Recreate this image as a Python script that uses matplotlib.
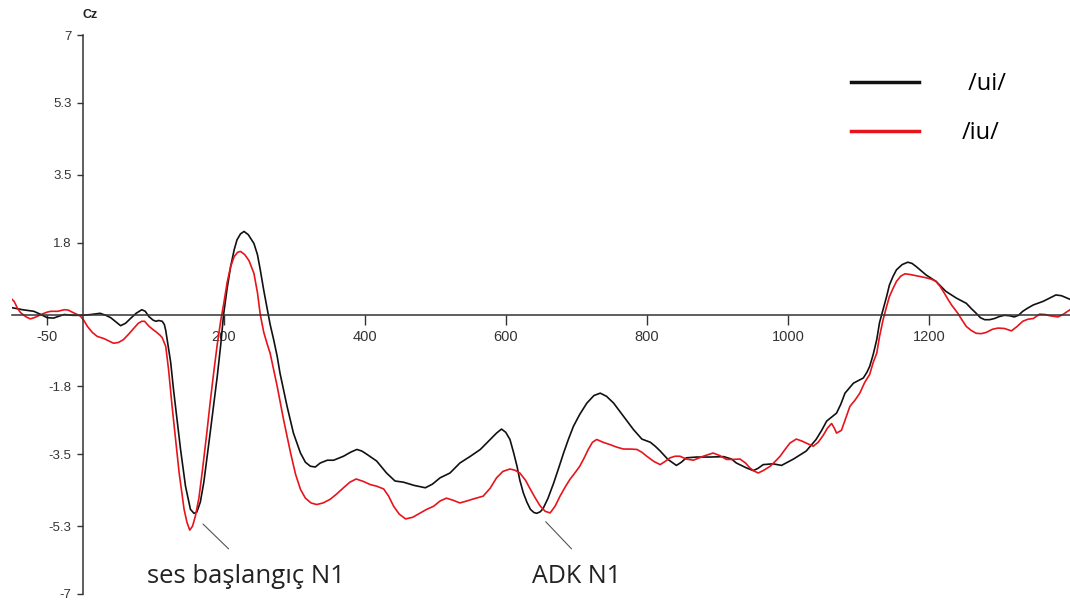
import numpy as np
import matplotlib.pyplot as plt

plt.rcParams['axes.unicode_minus'] = False

# grand-average ERP at Cz, time in ms, amplitude in microvolts
t_ui = [-100, -97, -85, -69, -59, -50, -41, -33, -26, -14, 0, 12, 25, 33, 40, 47, 54, 61, 68, 76,
        84, 89, 94, 100, 104, 108, 113, 116, 118, 120, 125, 129, 134, 139, 146, 153, 158, 162, 167, 172,
        176, 181, 186, 191, 196, 200, 205, 210, 215, 219, 224, 229, 235, 243, 248, 252, 257, 262, 266, 271,
        276, 280, 290, 299, 309, 316, 323, 330, 337, 347, 356, 370, 380, 389, 396, 403, 417, 431, 443, 455,
        470, 486, 496, 507, 521, 535, 550, 564, 578, 587, 594, 600, 606, 611, 616, 620, 625, 630, 635, 640,
        644, 649, 653, 660, 668, 675, 682, 689, 696, 705, 715, 725, 734, 743, 753, 767, 781, 793, 805, 812,
        819, 830, 842, 849, 856, 871, 890, 909, 920, 927, 941, 951, 958, 965, 979, 991, 1008, 1026, 1040, 1048,
        1055, 1062, 1069, 1075, 1081, 1093, 1107, 1112, 1116, 1121, 1126, 1130, 1135, 1140, 1144, 1149, 1154, 1162, 1170, 1176,
        1182, 1196, 1210, 1224, 1239, 1253, 1260, 1267, 1273, 1279, 1286, 1293, 1300, 1307, 1314, 1321, 1327, 1333, 1340, 1348,
        1362, 1372, 1380, 1388, 1400]
v_ui = [0.17, 0.16, 0.12, 0.08, 0.0, -0.08, -0.09, -0.04, 0.0, -0.02, -0.02, 0.0, 0.03, -0.02, -0.08, -0.18, -0.28, -0.22, -0.1, 0.03,
        0.12, 0.08, -0.05, -0.14, -0.17, -0.15, -0.17, -0.25, -0.4, -0.63, -1.2, -1.88, -2.63, -3.38, -4.3, -4.88, -4.98, -4.95, -4.7, -4.2,
        -3.65, -2.96, -2.25, -1.55, -0.75, 0.0, 0.65, 1.2, 1.62, 1.87, 2.02, 2.08, 2.0, 1.78, 1.5, 1.12, 0.6, 0.12, -0.25, -0.63,
        -1.05, -1.47, -2.3, -2.97, -3.47, -3.7, -3.8, -3.82, -3.72, -3.65, -3.65, -3.55, -3.45, -3.38, -3.42, -3.5, -3.67, -3.97, -4.17, -4.2,
        -4.28, -4.34, -4.25, -4.09, -3.97, -3.72, -3.55, -3.38, -3.13, -2.97, -2.87, -2.95, -3.13, -3.45, -3.8, -4.15, -4.47, -4.7, -4.88, -4.96,
        -4.98, -4.94, -4.86, -4.6, -4.22, -3.85, -3.47, -3.12, -2.8, -2.5, -2.22, -2.03, -1.97, -2.05, -2.22, -2.55, -2.88, -3.12, -3.2, -3.3,
        -3.42, -3.63, -3.78, -3.7, -3.59, -3.57, -3.57, -3.56, -3.62, -3.72, -3.84, -3.91, -3.85, -3.76, -3.74, -3.78, -3.62, -3.42, -3.13, -2.9,
        -2.67, -2.57, -2.47, -2.25, -1.97, -1.72, -1.59, -1.45, -1.3, -1.0, -0.63, -0.2, 0.12, 0.45, 0.74, 0.95, 1.12, 1.25, 1.31, 1.28,
        1.2, 0.99, 0.83, 0.58, 0.41, 0.28, 0.15, 0.03, -0.08, -0.13, -0.13, -0.1, -0.05, -0.02, -0.03, -0.06, -0.02, 0.08, 0.16, 0.24,
        0.33, 0.42, 0.49, 0.47, 0.38]

t_iu = [-100, -97, -92, -88, -80, -74, -67, -59, -50, -45, -35, -26, -20, -17, -10, -3, 2, 7, 14, 21,
        30, 37, 44, 51, 58, 65, 73, 79, 84, 88, 94, 100, 104, 110, 113, 118, 122, 127, 132, 137,
        144, 148, 152, 156, 160, 165, 170, 176, 181, 186, 191, 196, 200, 205, 210, 215, 220, 224, 230, 236,
        243, 248, 252, 257, 262, 266, 276, 285, 295, 302, 309, 316, 324, 332, 341, 351, 360, 370, 379, 388,
        398, 408, 417, 427, 434, 441, 449, 458, 468, 479, 488, 498, 507, 516, 525, 535, 545, 554, 568, 578,
        587, 596, 606, 613, 620, 628, 635, 642, 649, 656, 663, 670, 677, 684, 691, 698, 705, 711, 717, 723,
        729, 738, 748, 757, 767, 776, 786, 793, 800, 810, 819, 826, 833, 840, 847, 856, 866, 880, 894, 903,
        913, 922, 932, 940, 946, 952, 958, 966, 975, 982, 989, 996, 1003, 1012, 1020, 1026, 1036, 1043, 1050, 1056,
        1062, 1066, 1069, 1076, 1082, 1088, 1095, 1102, 1109, 1116, 1121, 1126, 1130, 1135, 1140, 1144, 1149, 1154, 1160, 1166,
        1174, 1182, 1196, 1204, 1210, 1216, 1222, 1227, 1232, 1241, 1247, 1253, 1260, 1267, 1274, 1281, 1290, 1298, 1307, 1317,
        1325, 1333, 1340, 1348, 1357, 1365, 1371, 1383, 1390, 1400]
v_iu = [0.38, 0.33, 0.15, 0.05, -0.06, -0.11, -0.07, 0.0, 0.06, 0.08, 0.08, 0.12, 0.11, 0.08, 0.02, -0.04, -0.15, -0.3, -0.45, -0.55,
        -0.6, -0.66, -0.72, -0.7, -0.63, -0.5, -0.34, -0.22, -0.17, -0.17, -0.29, -0.38, -0.43, -0.52, -0.58, -0.8, -1.38, -2.3, -3.13, -3.97,
        -4.88, -5.2, -5.4, -5.3, -5.05, -4.6, -3.9, -3.0, -2.2, -1.45, -0.75, -0.15, 0.25, 0.8, 1.2, 1.45, 1.56, 1.58, 1.5, 1.35,
        1.03, 0.55, 0.0, -0.45, -0.75, -0.97, -1.8, -2.63, -3.47, -4.0, -4.38, -4.6, -4.72, -4.76, -4.72, -4.63, -4.5, -4.34, -4.2, -4.12,
        -4.18, -4.26, -4.3, -4.37, -4.55, -4.8, -5.0, -5.12, -5.08, -4.97, -4.88, -4.8, -4.67, -4.6, -4.65, -4.72, -4.67, -4.62, -4.55, -4.35,
        -4.09, -3.93, -3.87, -3.9, -3.97, -4.15, -4.38, -4.6, -4.8, -4.93, -4.97, -4.8, -4.55, -4.33, -4.13, -3.97, -3.8, -3.6, -3.38, -3.2,
        -3.13, -3.2, -3.26, -3.32, -3.37, -3.37, -3.38, -3.45, -3.55, -3.68, -3.76, -3.68, -3.59, -3.55, -3.55, -3.62, -3.65, -3.55, -3.47, -3.53,
        -3.63, -3.63, -3.62, -3.72, -3.84, -3.92, -3.97, -3.9, -3.8, -3.68, -3.55, -3.38, -3.22, -3.12, -3.17, -3.22, -3.3, -3.2, -3.03, -2.85,
        -2.73, -2.85, -2.97, -2.9, -2.6, -2.3, -2.15, -1.97, -1.7, -1.5, -1.2, -0.97, -0.55, -0.13, 0.2, 0.45, 0.65, 0.83, 0.96, 1.02,
        1.0, 0.97, 0.92, 0.88, 0.83, 0.7, 0.53, 0.38, 0.24, 0.03, -0.14, -0.3, -0.4, -0.47, -0.48, -0.45, -0.37, -0.34, -0.35, -0.41,
        -0.3, -0.17, -0.12, -0.1, 0.01, 0.0, -0.03, -0.06, 0.0, 0.12]

yticks = [7, 5.3, 3.5, 1.8, -1.8, -3.5, -5.3, -7]
xticks = [-50, 200, 400, 600, 800, 1000, 1200]

axis_col = '#333333'

fig = plt.figure(figsize=(10.70, 6.04), dpi=100)
ax = fig.add_axes([0.0112, 0.0166, 0.9888, 0.9254])

ax.plot(t_ui, v_ui, color='#111111', lw=1.2, label=' /ui/')
ax.plot(t_iu, v_iu, color='#e8141c', lw=1.2, label='/iu/')

ax.set_xlim(-100, 1400)
ax.set_ylim(-7, 7)

for s in ['top', 'right']:
    ax.spines[s].set_visible(False)
ax.spines['left'].set_position(('data', 0))
ax.spines['bottom'].set_position(('data', 0))
for s in ['left', 'bottom']:
    ax.spines[s].set_color(axis_col)
    ax.spines[s].set_linewidth(1.1)

ax.set_yticks(yticks)
ax.set_yticklabels([f'{v:g}' for v in yticks])
ax.set_xticks(xticks)
ax.tick_params(axis='y', direction='out', length=4, width=1.0, color=axis_col,
               labelsize=9.5, labelcolor=axis_col, pad=4)
ax.tick_params(axis='x', direction='out', length=7, width=1.0, color=axis_col,
               labelsize=10.5, labelcolor=axis_col, pad=4)
for lab in ax.get_xticklabels() + ax.get_yticklabels():
    lab.set_fontfamily('Liberation Sans')

fig.text(90 / 1070, 1 - 15 / 604, 'Cz', fontsize=9, fontweight='bold',
         family='Liberation Sans', ha='center', va='center', color='#222222')

leg = ax.legend(loc='upper left', bbox_to_anchor=(0.793, 0.934), frameon=False,
                handlelength=2.9, handletextpad=1.8, labelspacing=1.07,
                borderpad=0, borderaxespad=0,
                prop={'family': 'Open Sans', 'size': 17})
for h in leg.get_lines():
    h.set_linewidth(2.5)

# peak labels
ax.annotate('', xy=(168, -5.2), xytext=(210, -5.92),
            arrowprops=dict(arrowstyle='-', color='#555555', lw=0.8))
ax.text(232, -6.56, 'ses başlangıç N1', ha='center', va='center',
        family='Open Sans', fontsize=18.5, color='#222222')
ax.annotate('', xy=(654, -5.14), xytext=(696, -5.92),
            arrowprops=dict(arrowstyle='-', color='#555555', lw=0.8))
ax.text(701, -6.56, 'ADK N1', ha='center', va='center',
        family='Open Sans', fontsize=18, color='#222222')

fig.savefig('out.png', dpi=100)
